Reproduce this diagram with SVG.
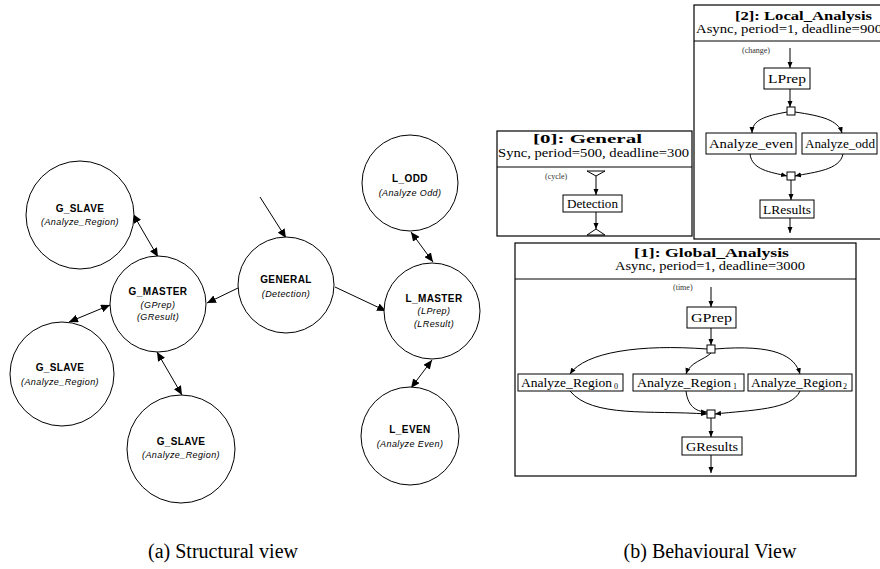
<svg xmlns="http://www.w3.org/2000/svg" width="880" height="569" viewBox="0 0 880 569">
<defs>
<style>
.c{fill:#fff;stroke:#000;stroke-width:1}
.nb{font-family:"Liberation Sans",Arial,sans-serif;font-weight:bold;font-size:10px;letter-spacing:0.4px;text-anchor:middle}
.ni{font-family:"Liberation Sans",Arial,sans-serif;font-style:italic;font-size:9px;letter-spacing:0.4px;text-anchor:middle}
.e{fill:none;stroke:#000;stroke-width:1}
.bx{fill:#fff;stroke:#000;stroke-width:1}
.fr{fill:#fff;stroke:#000;stroke-width:1.2}
.t{font-family:"Liberation Serif","Times New Roman",serif;font-size:12px}
.tb{font-family:"Liberation Serif","Times New Roman",serif;font-size:13.5px;font-weight:bold}
.ts{font-family:"Liberation Serif","Times New Roman",serif;font-size:8px;fill:#333}
.sub{font-family:"Liberation Serif","Times New Roman",serif;font-size:8px}
.cap{font-family:"Liberation Serif","Times New Roman",serif;font-size:20px;text-anchor:middle}
</style>
<marker id="ab" markerUnits="userSpaceOnUse" markerWidth="10" markerHeight="8" refX="9" refY="4" orient="auto-start-reverse"><path d="M0,0 L9,4 L0,8 z" fill="#000"/></marker>
<marker id="as" markerUnits="userSpaceOnUse" markerWidth="7" markerHeight="6" refX="6" refY="3" orient="auto"><path d="M0,0.5 L6,3 L0,5.5 z" fill="#000"/></marker>
</defs>
<rect width="880" height="569" fill="#fff"/>

<!-- Structural view -->
<g id="connectors-a">
<path class="e" d="M133,214 L158,257" marker-start="url(#ab)" marker-end="url(#ab)"/>
<path class="e" d="M69,322 L110,305" marker-start="url(#ab)" marker-end="url(#ab)"/>
<path class="e" d="M157,352 L182,395" marker-start="url(#ab)" marker-end="url(#ab)"/>
<path class="e" d="M238,288 L207,303" marker-end="url(#ab)"/>
<path class="e" d="M260,197 L286,238" marker-end="url(#ab)"/>
<path class="e" d="M335,287 L386,311" marker-end="url(#ab)"/>
<path class="e" d="M411,232 L433,262" marker-start="url(#ab)" marker-end="url(#ab)"/>
<path class="e" d="M432,360 L411,388" marker-start="url(#ab)" marker-end="url(#ab)"/>
</g>
<g id="g_slave_top"><circle class="c" cx="80" cy="215" r="54"/><text class="nb" x="80" y="212">G_SLAVE</text><text class="ni" x="80" y="225">(Analyze_Region)</text></g>
<g id="g_master"><circle class="c" cx="158" cy="304" r="48"/><text class="nb" x="158" y="295">G_MASTER</text><text class="ni" x="158" y="308">(GPrep)</text><text class="ni" x="158" y="320">(GResult)</text></g>
<g id="g_slave_left"><circle class="c" cx="62" cy="374" r="52"/><text class="nb" x="60" y="371">G_SLAVE</text><text class="ni" x="60" y="385">(Analyze_Region)</text></g>
<g id="g_slave_bottom"><circle class="c" cx="181" cy="449" r="54"/><text class="nb" x="181" y="445">G_SLAVE</text><text class="ni" x="181" y="458">(Analyze_Region)</text></g>
<g id="general"><circle class="c" cx="286" cy="285" r="48"/><text class="nb" x="286" y="283">GENERAL</text><text class="ni" x="286" y="297">(Detection)</text></g>
<g id="l_odd"><circle class="c" cx="410" cy="183" r="48"/><text class="nb" x="410" y="182">L_ODD</text><text class="ni" x="410" y="196">(Analyze Odd)</text></g>
<g id="l_master"><circle class="c" cx="432" cy="311" r="48"/><text class="nb" x="434" y="302">L_MASTER</text><text class="ni" x="434" y="314">(LPrep)</text><text class="ni" x="434" y="327">(LResult)</text></g>
<g id="l_even"><circle class="c" cx="410" cy="436" r="49"/><text class="nb" x="410" y="433">L_EVEN</text><text class="ni" x="410" y="447">(Analyze Even)</text></g>

<!-- Behavioural view: General -->
<g id="task_general">
<rect class="fr" x="497" y="131" width="195" height="105"/>
<line class="e" x1="497" y1="167" x2="692" y2="167" stroke-width="1.2"/>
<text class="tb" x="533" y="143" textLength="109" lengthAdjust="spacingAndGlyphs">[0]:  General</text>
<text class="t" x="498" y="157" textLength="191" lengthAdjust="spacingAndGlyphs">Sync, period=500, deadline=300</text>
<text class="ts" x="545" y="179">(cycle)</text>
<path d="M587,171 L605,171 L596,176 z" fill="#fff" stroke="#000"/>
<rect class="bx" x="563" y="195" width="59" height="17"/>
<text class="t" x="567" y="208" textLength="51" lengthAdjust="spacingAndGlyphs">Detection</text>
<path d="M587,235 L605,235 L596,229 z" fill="#fff" stroke="#000"/>
</g>
<g id="connectors-general">
<path class="e" d="M596,176 L596,195" marker-end="url(#as)"/>
<path class="e" d="M596,212 L596,229" marker-end="url(#as)"/>
</g>

<!-- Local_Analysis -->
<g id="task_local">
<rect class="fr" x="694" y="5" width="192" height="234"/>
<line class="e" x1="694" y1="41" x2="886" y2="41" stroke-width="1.2"/>
<text class="tb" x="735" y="20" textLength="137" lengthAdjust="spacingAndGlyphs">[2]:  Local_Analysis</text>
<text class="t" x="696" y="33" textLength="186" lengthAdjust="spacingAndGlyphs">Async, period=1, deadline=900</text>
<text class="ts" x="742" y="53">(change)</text>
<rect class="bx" x="764" y="68" width="46" height="21"/>
<text class="t" x="768" y="83" textLength="38" lengthAdjust="spacingAndGlyphs">LPrep</text>
<rect class="bx" x="787" y="107" width="8" height="8"/>
<rect class="bx" x="706" y="133" width="90" height="21"/>
<text class="t" x="709" y="148" textLength="84" lengthAdjust="spacingAndGlyphs">Analyze_even</text>
<rect class="bx" x="802" y="133" width="75" height="21"/>
<text class="t" x="805" y="148" textLength="70" lengthAdjust="spacingAndGlyphs">Analyze_odd</text>
<rect class="bx" x="787" y="172" width="8" height="8"/>
<rect class="bx" x="760" y="200" width="54" height="18"/>
<text class="t" x="763" y="214" textLength="48" lengthAdjust="spacingAndGlyphs">LResults</text>
</g>
<g id="connectors-local">
<path class="e" d="M790,48 L790,68" marker-end="url(#as)"/>
<path class="e" d="M790,89 L790,107" marker-end="url(#as)"/>
<path class="e" d="M787,112 C765,116 752,120 752,133" marker-end="url(#as)"/>
<path class="e" d="M795,112 C822,116 838,120 842,133" marker-end="url(#as)"/>
<path class="e" d="M750,154 C752,170 770,172 787,176" marker-end="url(#as)"/>
<path class="e" d="M843,154 C840,170 815,172 795,176" marker-end="url(#as)"/>
<path class="e" d="M791,180 L791,200" marker-end="url(#as)"/>
<path class="e" d="M790,218 L790,233" marker-end="url(#as)"/>
</g>

<!-- Global_Analysis -->
<g id="task_global">
<rect class="fr" x="515" y="243" width="341" height="233"/>
<line class="e" x1="515" y1="279" x2="856" y2="279" stroke-width="1.2"/>
<text class="tb" x="634" y="257" textLength="155" lengthAdjust="spacingAndGlyphs">[1]:  Global_Analysis</text>
<text class="t" x="615" y="270" textLength="190" lengthAdjust="spacingAndGlyphs">Async, period=1, deadline=3000</text>
<text class="ts" x="673" y="290">(time)</text>
<rect class="bx" x="687" y="307" width="49" height="21"/>
<text class="t" x="691" y="322" textLength="41" lengthAdjust="spacingAndGlyphs">GPrep</text>
<rect class="bx" x="707" y="345" width="8" height="8"/>
<rect class="bx" x="518" y="374" width="105" height="17"/>
<text class="t" x="521" y="387" textLength="91" lengthAdjust="spacingAndGlyphs">Analyze_Region</text><text class="sub" x="614" y="389">0</text>
<rect class="bx" x="633" y="374" width="111" height="17"/>
<text class="t" x="637" y="387" textLength="94" lengthAdjust="spacingAndGlyphs">Analyze_Region</text><text class="sub" x="733" y="389">1</text>
<rect class="bx" x="748" y="374" width="104" height="17"/>
<text class="t" x="751" y="387" textLength="91" lengthAdjust="spacingAndGlyphs">Analyze_Region</text><text class="sub" x="843" y="389">2</text>
<rect class="bx" x="707" y="410" width="8" height="8"/>
<rect class="bx" x="682" y="437" width="60" height="18"/>
<text class="t" x="686" y="451" textLength="52" lengthAdjust="spacingAndGlyphs">GResults</text>
</g>
<g id="connectors-global">
<path class="e" d="M711,287 L711,307" marker-end="url(#as)"/>
<path class="e" d="M711,328 L711,345" marker-end="url(#as)"/>
<path class="e" d="M707,349 C640,344 585,352 570,374" marker-end="url(#as)"/>
<path class="e" d="M711,353 C704,360 690,362 686,374" marker-end="url(#as)"/>
<path class="e" d="M715,349 C775,344 795,356 800,374" marker-end="url(#as)"/>
<path class="e" d="M570,391 C592,418 650,410 707,414" marker-end="url(#as)"/>
<path class="e" d="M686,391 C688,408 698,412 707,412" marker-end="url(#as)"/>
<path class="e" d="M800,391 C792,410 750,410 715,414" marker-end="url(#as)"/>
<path class="e" d="M711,418 L711,437" marker-end="url(#as)"/>
<path class="e" d="M711,455 L711,473" marker-end="url(#as)"/>
</g>

<text class="cap" x="223" y="558">(a) Structural view</text>
<text class="cap" x="710" y="558">(b) Behavioural View</text>
</svg>
